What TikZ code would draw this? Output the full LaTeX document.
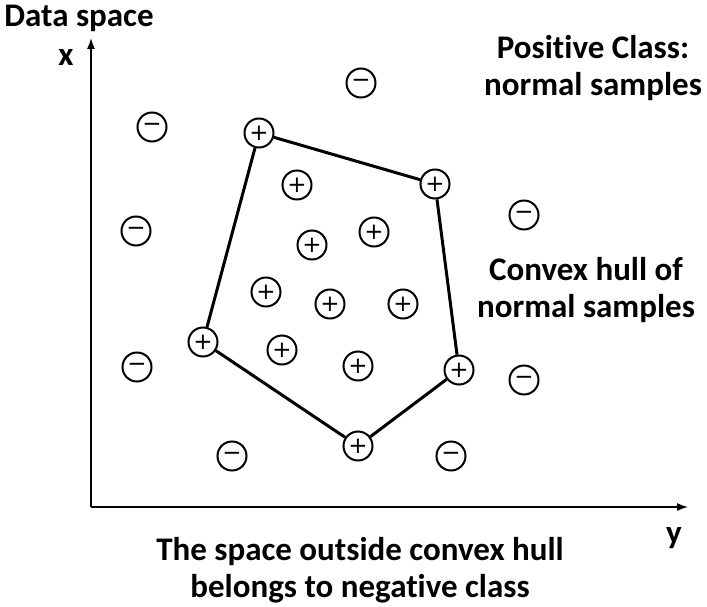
\documentclass[tikz,border=0pt]{standalone}
\usepackage{fontspec}
\setmainfont{Carlito}[Ligatures=NoCommon]
\newfontfamily\signfont{DejaVu Sans}
\usetikzlibrary{arrows.meta}

\begin{document}
\begin{tikzpicture}[x=1pt, y=-1pt,
    pt/.style={draw, circle, line width=2pt, minimum size=29pt, inner sep=0pt,
      font=\signfont\fontsize{23}{23}\selectfont},
    lbl/.style={font=\fontsize{33}{37}\selectfont\bfseries, align=center},
    axis/.style={line width=1.4pt, -{Latex[length=11pt,width=8pt]}},
    hull/.style={line width=3pt}]
        \useasboundingbox (0,0) rectangle (707,607);
        % axes
        \coordinate (O) at (91,507);
        \coordinate (xtip) at (91,38);
        \coordinate (ytip) at (688,507);
        \draw[axis] (O) -- (xtip);
        \draw[axis] (O) -- (ytip);
        \node[lbl] (xlab) at (66,58) {x};
        \node[lbl] (ylab) at (674,538) {y};
        \node[lbl] (title) at (79,18) {Data space};
        % labels
        \node[lbl] (pos) at (593,68) {Positive Class:\\normal samples};
        \node[lbl] (hulltxt) at (586,290) {Convex hull of\\normal samples};
        \node[lbl] (neg) at (360,570) {The space outside convex hull\\belongs to negative class};
        % negative samples
        \node[pt] (n1) at (361,83) {−};
        \node[pt] (n2) at (152,127) {−};
        \node[pt] (n3) at (136,231) {−};
        \node[pt] (n4) at (524,215) {−};
        \node[pt] (n5) at (137,367) {−};
        \node[pt] (n6) at (524,380) {−};
        \node[pt] (n7) at (232,456) {−};
        \node[pt] (n8) at (451,456) {−};
        % hull vertices
        \node[pt] (A) at (259,133) {+};
        \node[pt] (B) at (435,184) {+};
        \node[pt] (C) at (459,370) {+};
        \node[pt] (D) at (358,446) {+};
        \node[pt] (E) at (203,342) {+};
        % inner samples
        \node[pt] (p1) at (297,185) {+};
        \node[pt] (p2) at (312,245) {+};
        \node[pt] (p3) at (374,232) {+};
        \node[pt] (p4) at (266,292) {+};
        \node[pt] (p5) at (330,304) {+};
        \node[pt] (p6) at (403,304) {+};
        \node[pt] (p7) at (282,350) {+};
        \node[pt] (p8) at (358,366) {+};
        \draw[hull] (A) -- (B) -- (C) -- (D) -- (E) -- (A);
\end{tikzpicture}
\end{document}
